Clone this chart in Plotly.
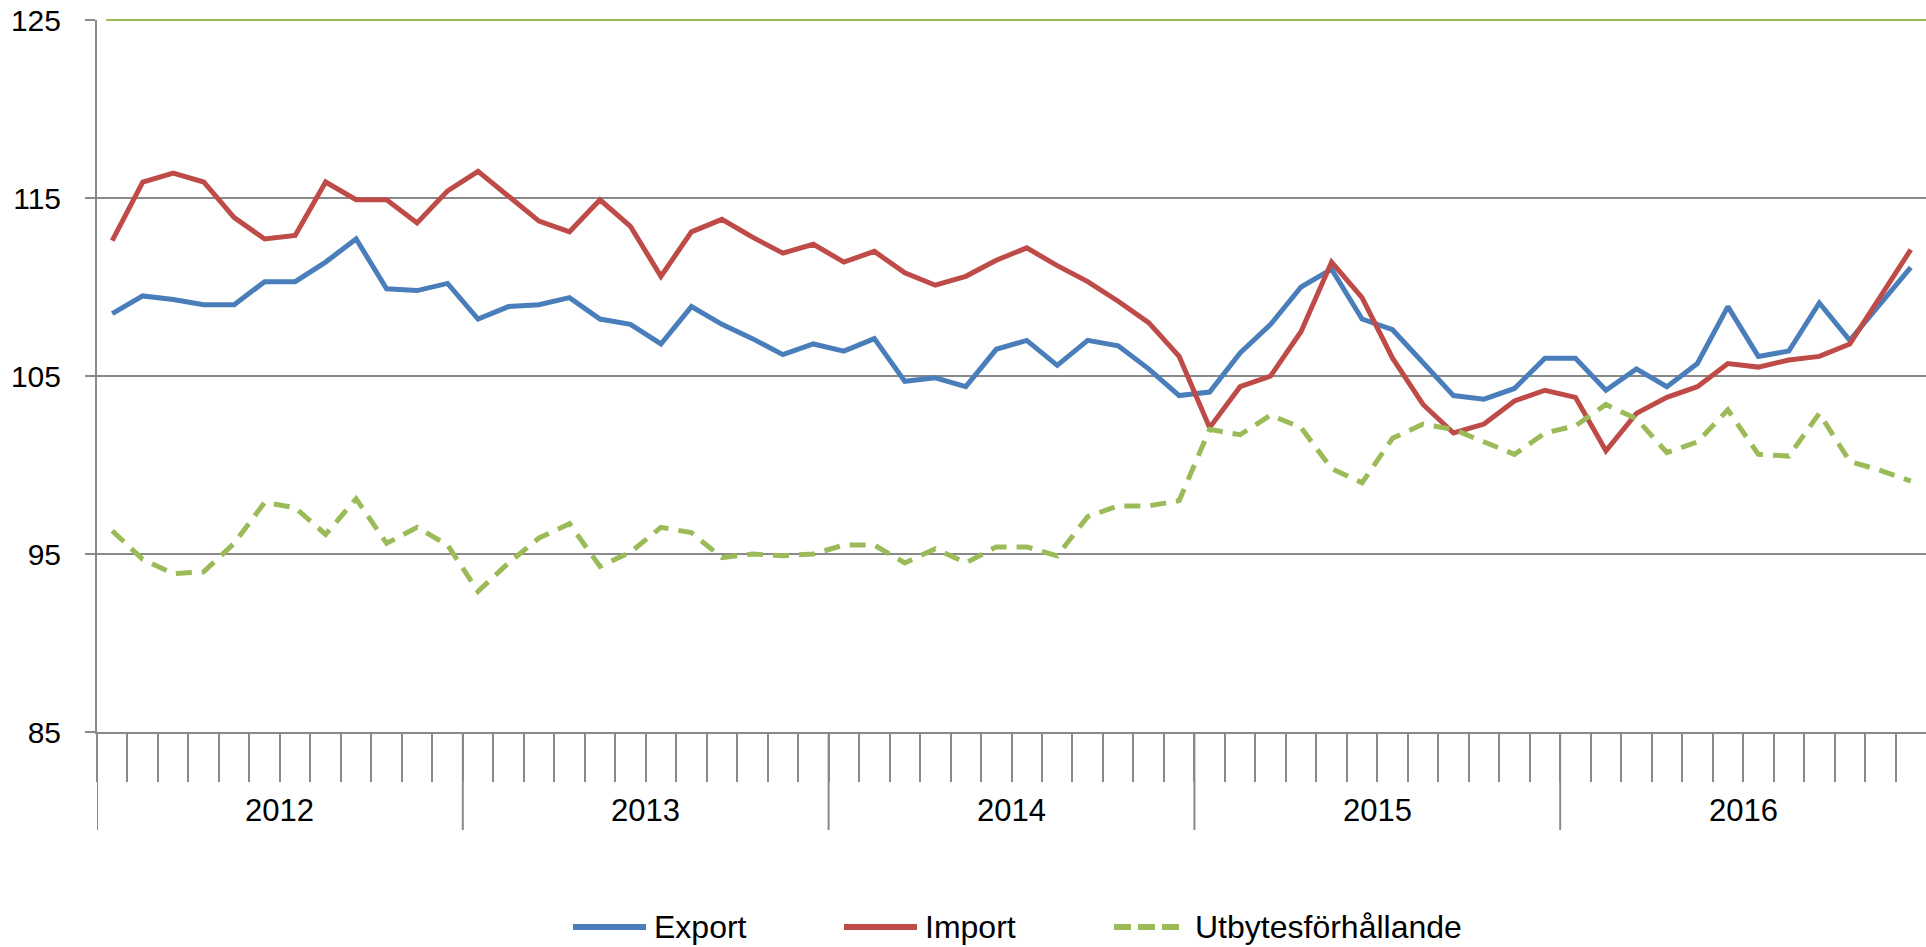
import plotly.graph_objects as go

YEARS = ["2012", "2013", "2014", "2015", "2016"]

EXPORT = [
    108.5, 109.5, 109.3, 109.0, 109.0, 110.3, 110.3, 111.4, 112.7, 109.9, 109.8, 110.2,
    108.2, 108.9, 109.0, 109.4, 108.2, 107.9, 106.8, 108.9, 107.9, 107.1, 106.2, 106.8,
    106.4, 107.1, 104.7, 104.9, 104.4, 106.5, 107.0, 105.6, 107.0, 106.7, 105.4, 103.9,
    104.1, 106.3, 107.9, 110.0, 111.0, 108.2, 107.6, 105.7, 103.9, 103.7, 104.3, 106.0,
    106.0, 104.2, 105.4, 104.4, 105.7, 108.9, 106.1, 106.4, 109.1, 107.0, 109.1, 111.1,
]

IMPORT = [
    112.6, 115.9, 116.4, 115.9, 113.9, 112.7, 112.9, 115.9, 114.9, 114.9, 113.6, 115.4,
    116.5, 115.1, 113.7, 113.1, 114.9, 113.4, 110.6, 113.1, 113.8, 112.8, 111.9, 112.4,
    111.4, 112.0, 110.8, 110.1, 110.6, 111.5, 112.2, 111.2, 110.3, 109.2, 108.0, 106.1,
    102.1, 104.4, 105.0, 107.5, 111.4, 109.4, 106.0, 103.4, 101.8, 102.3, 103.6, 104.2,
    103.8, 100.8, 102.9, 103.8, 104.4, 105.7, 105.5, 105.9, 106.1, 106.8, 109.5, 112.1,
]

UTBYTES = [
    96.3, 94.7, 93.9, 94.0, 95.6, 97.9, 97.6, 96.1, 98.1, 95.6, 96.5, 95.5,
    92.9, 94.5, 95.9, 96.7, 94.3, 95.1, 96.5, 96.2, 94.8, 95.0, 94.9, 95.0,
    95.5, 95.5, 94.5, 95.3, 94.5, 95.4, 95.4, 94.9, 97.1, 97.7, 97.7, 98.0,
    102.0, 101.7, 102.8, 102.1, 99.8, 99.0, 101.5, 102.3, 102.0, 101.3, 100.6, 101.8,
    102.2, 103.4, 102.6, 100.7, 101.3, 103.1, 100.6, 100.5, 102.9, 100.2, 99.7, 99.1,
]

Y_TICKS = [85, 95, 105, 115, 125]

BLUE = "#4A7EBB"
RED = "#BE4B48"
GREEN = "#9BBB59"
GRID = "#898989"
FONT = "Liberation Sans, Arial, sans-serif"

W, H = 1926, 947
ML, MR, MT, MB = 97, 0, 20, 215
PW, PH = W - ML - MR, H - MT - MB


def px_x(p):
    # page pixel -> paper x
    return (p - ML) / PW


def px_y(p):
    # page pixel -> paper y
    return (H - MB - p) / PH


n_months = len(EXPORT)
x = [i + 0.5 for i in range(n_months)]

fig = go.Figure()
fig.add_trace(go.Scatter(x=x, y=EXPORT, mode="lines", name="Export",
                         line=dict(color=BLUE, width=5)))
fig.add_trace(go.Scatter(x=x, y=IMPORT, mode="lines", name="Import",
                         line=dict(color=RED, width=5)))
fig.add_trace(go.Scatter(x=x, y=UTBYTES, mode="lines", name="Utbytesförhållande",
                         line=dict(color=GREEN, width=5, dash="16px,10px")))

# year dividers and labels (the closing boundary sits just off the right edge)
for k, year in enumerate(YEARS):
    fig.add_annotation(x=12 * k + 6, y=px_y(811), xref="x", yref="paper",
                       text=year, showarrow=False, yanchor="middle",
                       font=dict(size=31, color="black", family=FONT))
    fig.add_shape(type="line", xref="x", yref="paper", x0=12 * k, x1=12 * k,
                  y0=0, y1=px_y(830), line=dict(color=GRID, width=2))

# green line along the top of the plot
fig.add_shape(type="line", xref="paper", yref="paper", x0=px_x(106), x1=1, y0=1, y1=1,
              line=dict(color=GREEN, width=2))

# legend drawn by hand to get the long Excel-style samples
legend = [
    ("Export", BLUE, "solid", 573, 646, 652),
    ("Import", RED, "solid", 844, 917, 923),
    ("Utbytesförhållande", GREEN, "17px,7px", 1114, 1180, 1193),
]
ly = px_y(927)
for name, color, dash, x0, x1, tx in legend:
    fig.add_shape(type="line", xref="paper", yref="paper", x0=px_x(x0), x1=px_x(x1),
                  y0=ly, y1=ly, line=dict(color=color, width=6, dash=dash))
    fig.add_annotation(x=px_x(tx), y=ly, xref="paper", yref="paper", text=name,
                       showarrow=False, xanchor="left", yanchor="middle",
                       font=dict(size=32, color="black", family=FONT))

fig.update_layout(
    width=W,
    height=H,
    margin=dict(l=ML, r=MR, t=MT, b=MB, pad=0),
    plot_bgcolor="white",
    paper_bgcolor="white",
    showlegend=False,
    font=dict(family=FONT, color="black"),
    xaxis=dict(
        range=[0, n_months],
        automargin=False,
        tickvals=list(range(0, n_months)),
        ticks="outside",
        ticklen=48,
        tickwidth=2,
        tickcolor=GRID,
        showticklabels=False,
        showgrid=False,
        zeroline=False,
        showline=True,
        linecolor=GRID,
        linewidth=2,
    ),
    yaxis=dict(
        range=[85, 125],
        automargin=False,
        tickvals=Y_TICKS,
        ticks="outside",
        ticklen=10,
        tickwidth=2,
        tickcolor=GRID,
        ticklabelstandoff=18,
        ticklabeloverflow="allow",
        tickfont=dict(size=30, color="black", family=FONT),
        showgrid=True,
        gridcolor=GRID,
        gridwidth=2,
        zeroline=False,
        showline=True,
        linecolor=GRID,
        linewidth=2,
    ),
)

# drop the browser's default 8px body margin so the figure fills the window
fig.write_html(
    "out.html",
    config={"displayModeBar": False},
    post_script="document.body.style.margin = '0';",
)
